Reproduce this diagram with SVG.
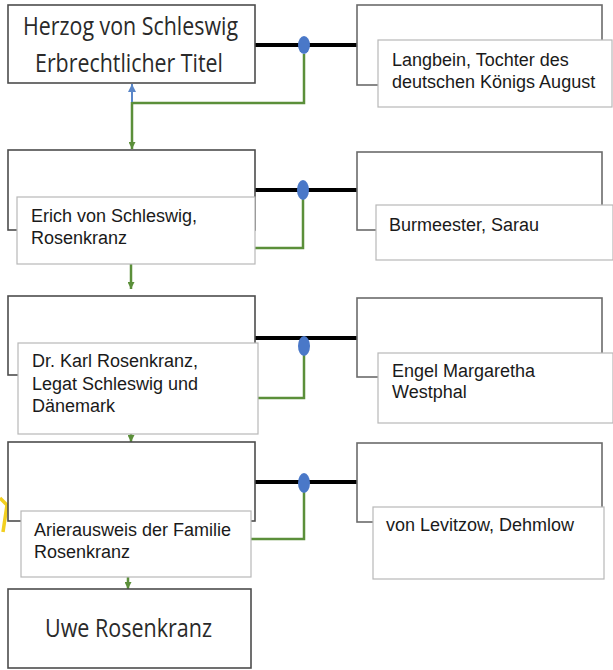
<svg xmlns="http://www.w3.org/2000/svg" width="613" height="670" viewBox="0 0 613 670">
<defs>
<style>
.box{fill:#fff;stroke:#4d4d4d;stroke-width:1.6}
.sbox{fill:#fff;stroke:#6b6b6b;stroke-width:1.6}
.lbl{fill:#fff;stroke:#b8b8b8;stroke-width:1.2}
.t{font-family:"Liberation Sans",Arial,sans-serif;font-size:18px;fill:#1a1a1a}
.big{font-family:"Open Sans","Noto Sans",sans-serif;font-size:26px;fill:#2a2a2a}
.mar{stroke:#000;stroke-width:4;fill:none}
.grn{stroke:#5b8f3a;stroke-width:2.5;fill:none}
.dot{fill:#4a78c8}
</style>
<marker id="ag" viewBox="0 0 10 10" refX="10" refY="5" markerWidth="8" markerHeight="7" orient="auto" markerUnits="userSpaceOnUse">
<path d="M0,0 L10,5 L0,10 z" fill="#5b8f3a"/>
</marker>
<marker id="ab" viewBox="0 0 10 10" refX="10" refY="5" markerWidth="10" markerHeight="8" orient="auto" markerUnits="userSpaceOnUse">
<path d="M0,0 L10,5 L0,10 z" fill="#5a86c8"/>
</marker>
</defs>
<rect width="613" height="670" fill="#fff"/>

<polyline points="0,498 7,505 3,532" fill="none" stroke="#f2cf1f" stroke-width="3.5"/>

<g id="connectors">
<path class="mar" d="M255,45 H357"/>
<path class="grn" d="M304,54 V103 H132"/>
<path d="M132,103 V84" stroke="#5a86c8" stroke-width="2" fill="none" marker-end="url(#ab)"/>
<path class="grn" d="M132,102 V149" marker-end="url(#ag)"/>

<path class="mar" d="M255,190 H357"/>
<path class="grn" d="M303,199 V248 H255"/>
<path class="grn" d="M131,264 V289" marker-end="url(#ag)"/>

<path class="mar" d="M255,338 H357"/>
<path class="grn" d="M304,355 V398 H258"/>
<path class="grn" d="M131,434 V442" marker-end="url(#ag)"/>

<path class="mar" d="M255,482 H357"/>
<path class="grn" d="M304,492 V539 H251"/>
<path class="grn" d="M128,577 V589" marker-end="url(#ag)"/>

<ellipse class="dot" cx="304" cy="45" rx="6" ry="9"/>
<ellipse class="dot" cx="303" cy="190" rx="6" ry="10"/>
<ellipse class="dot" cx="304" cy="346" rx="6" ry="10"/>
<ellipse class="dot" cx="304" cy="483" rx="6" ry="10"/>
</g>

<g id="herzog">
<rect class="box" x="8" y="5" width="247" height="78"/>
<text class="big" x="130.5" y="35" text-anchor="middle" textLength="215" lengthAdjust="spacingAndGlyphs">Herzog von Schleswig</text>
<text class="big" x="129" y="72" text-anchor="middle" textLength="188" lengthAdjust="spacingAndGlyphs">Erbrechtlicher Titel</text>
</g>

<g id="langbein">
<rect class="sbox" x="357" y="5" width="245" height="80"/>
<rect class="lbl" x="378" y="40" width="234" height="67"/>
<text class="t" x="392" y="66">Langbein, Tochter des</text>
<text class="t" x="392" y="88">deutschen Königs August</text>
</g>

<g id="erich">
<rect class="box" x="8" y="150" width="247" height="80"/>
<rect class="lbl" x="17" y="197" width="238" height="67"/>
<text class="t" x="31" y="222">Erich von Schleswig,</text>
<text class="t" x="31" y="244">Rosenkranz</text>
</g>

<g id="burmeester">
<rect class="sbox" x="357" y="152" width="245" height="78"/>
<rect class="lbl" x="376" y="205" width="237" height="55"/>
<text class="t" x="389" y="231">Burmeester, Sarau</text>
</g>

<g id="karl">
<rect class="box" x="8" y="296" width="247" height="79"/>
<rect class="lbl" x="18" y="343" width="240" height="91"/>
<text class="t" x="32" y="367">Dr. Karl Rosenkranz,</text>
<text class="t" x="32" y="390">Legat Schleswig und</text>
<text class="t" x="32" y="412">Dänemark</text>
</g>

<g id="engel">
<rect class="sbox" x="357" y="298" width="245" height="79"/>
<rect class="lbl" x="378" y="353" width="235" height="70"/>
<text class="t" x="392" y="377">Engel Margaretha</text>
<text class="t" x="392" y="398">Westphal</text>
</g>

<g id="arierausweis">
<rect class="box" x="8" y="442" width="247" height="79"/>
<rect class="lbl" x="21" y="511" width="230" height="66"/>
<text class="t" x="34" y="536">Arierausweis der Familie</text>
<text class="t" x="34" y="558">Rosenkranz</text>
</g>

<g id="levitzow">
<rect class="sbox" x="357" y="443" width="245" height="79"/>
<rect class="lbl" x="373" y="507" width="231" height="72"/>
<text class="t" x="386" y="531">von Levitzow, Dehmlow</text>
</g>

<g id="uwe">
<rect class="box" x="8" y="589" width="243" height="79"/>
<text class="big" x="128.5" y="637" text-anchor="middle" textLength="167" lengthAdjust="spacingAndGlyphs">Uwe Rosenkranz</text>
</g>
</svg>
